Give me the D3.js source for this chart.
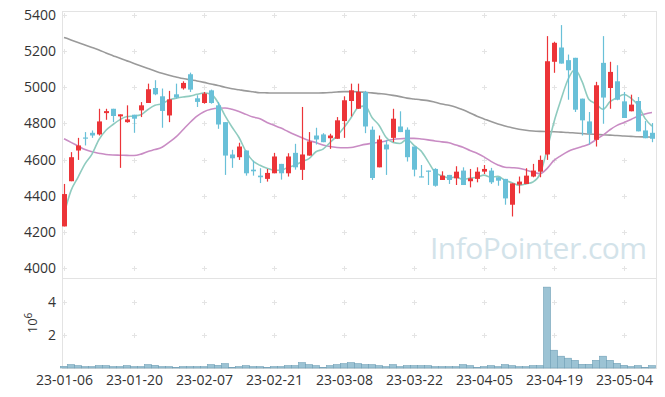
<!DOCTYPE html>
<html>
<head>
<meta charset="utf-8">
<script src="https://cdn.jsdelivr.net/npm/d3@7"></script>
<style>
body { margin: 0; background: #fff; }
text { font-family: "Open Sans", "Noto Sans", sans-serif; }
</style>
</head>
<body>
<div id="chart"></div>
<script>
// candles (open, high, low, close), one per trading day
var opens = [4230,4480,4650,4722,4748,4739,4857,4881,4839,4807,4848,4872,4913,4996,4950,4844,4961,4994,5072,4939,
    4913,4983,4900,4807,4628,4613,4650,4544,4511,4493,4524,4576,4524,4637,4543,4622,4733,4739,4718,4715,
    4813,4924,4881,4974,4765,4557,4683,4720,4783,4765,4672,4507,4539,4548,4487,4515,4496,4539,4480,4493,
    4533,4539,4502,4493,4350,4461,4465,4506,4533,4628,5141,5220,5150,5163,4937,4811,4709,5135,4996,5033,
    4922,4867,4924,4761,4748];
var highs = [4465,4641,4720,4752,4761,4881,4881,4881,4850,4900,4848,4918,5020,5039,4993,4980,5020,5033,5081,4956,
    4974,4987,4918,4807,4654,4693,4650,4594,4552,4548,4637,4576,4635,4687,4891,4752,4776,4746,4743,4835,
    4950,5020,5020,4980,4783,4733,4709,4881,4867,4778,4672,4570,4539,4552,4535,4515,4563,4557,4548,4557,
    4570,4554,4502,4493,4468,4506,4552,4576,4622,5283,5252,5344,5181,5163,4937,4863,5030,5283,5141,5122,
    4974,4959,4946,4813,4802];
var lows = [4230,4480,4598,4678,4720,4733,4820,4807,4554,4804,4748,4835,4913,4956,4776,4807,4937,4987,4974,4891,
    4909,4909,4770,4515,4554,4598,4511,4511,4470,4478,4524,4489,4506,4544,4487,4622,4683,4696,4659,4715,
    4720,4839,4881,4746,4487,4557,4515,4696,4752,4589,4507,4502,4459,4450,4487,4465,4459,4459,4446,4474,
    4520,4465,4455,4350,4285,4413,4465,4502,4502,4598,5080,5131,4931,4863,4733,4683,4672,4798,4881,4928,
    4830,4867,4756,4718,4696];
var closes = [4409,4613,4678,4718,4733,4811,4868,4841,4850,4822,4826,4900,4989,4961,4869,4933,4943,5024,4987,4919,
    4965,4913,4794,4622,4607,4672,4524,4535,4502,4526,4617,4524,4617,4557,4628,4700,4711,4696,4733,4817,
    4928,4983,4974,4783,4498,4711,4656,4826,4752,4613,4544,4504,4535,4455,4511,4487,4533,4459,4496,4533,
    4548,4474,4483,4385,4468,4478,4511,4539,4598,5144,5246,5131,5094,4876,4817,4743,5011,4943,5085,4931,
    4830,4904,4756,4718,4715];

// moving averages
var ma5 = [4298,4428,4502,4576,4630,4711,4762,4794,4821,4838,4841,4848,4877,4900,4909,4930,4939,4946,4951,4961,
    4968,4962,4916,4843,4780,4722,4644,4592,4568,4552,4541,4541,4557,4568,4589,4605,4643,4658,4694,4731,
    4777,4831,4887,4897,4833,4790,4724,4695,4689,4712,4678,4648,4590,4530,4510,4498,4504,4489,4497,4502,
    4514,4502,4507,4485,4472,4458,4465,4476,4519,4654,4808,4932,5043,5098,5033,4932,4908,4878,4920,4943,
    4960,4939,4901,4828,4785];
var ma20 = [4715,4695,4675,4655,4643,4635,4628,4625,4624,4623,4622,4630,4645,4655,4668,4695,4725,4765,4805,4840,
    4865,4878,4884,4885,4878,4866,4850,4835,4826,4805,4790,4774,4755,4737,4720,4705,4694,4680,4672,4667,
    4665,4667,4675,4684,4690,4696,4703,4711,4715,4717,4717,4714,4709,4703,4698,4693,4680,4668,4650,4635,
    4615,4590,4570,4557,4555,4552,4542,4530,4522,4550,4595,4622,4645,4660,4672,4685,4710,4735,4765,4789,
    4805,4822,4840,4852,4860];
var ma60 = [5276,5262,5248,5234,5220,5206,5190,5175,5160,5146,5132,5118,5104,5090,5077,5066,5057,5048,5041,5035,
    5027,5018,5010,5000,4992,4986,4980,4975,4970,4969,4968,4968,4968,4968,4968,4968,4968,4969,4971,4974,
    4976,4976,4975,4972,4969,4965,4961,4955,4948,4940,4935,4930,4926,4917,4907,4900,4890,4875,4858,4840,
    4825,4810,4797,4786,4776,4768,4762,4758,4756,4755,4754,4752,4750,4747,4744,4741,4739,4737,4735,4733,
    4730,4728,4726,4725,4724];

// volume, millions of shares
var volumes = [0.10,0.20,0.14,0.08,0.08,0.14,0.14,0.08,0.08,0.14,0.08,0.08,0.20,0.16,0.08,0.08,0.02,0.08,0.08,0.08,
    0.08,0.20,0.16,0.26,0.04,0.08,0.14,0.08,0.08,0.02,0.08,0.08,0.14,0.14,0.32,0.20,0.14,0.02,0.14,0.20,
    0.26,0.32,0.26,0.20,0.20,0.14,0.08,0.20,0.08,0.14,0.14,0.14,0.14,0.08,0.08,0.08,0.08,0.20,0.14,0.02,
    0.08,0.14,0.08,0.20,0.14,0.08,0.08,0.14,0.14,4.87,1.07,0.71,0.59,0.46,0.22,0.22,0.46,0.71,0.46,0.28,
    0.16,0.08,0.14,0.02,0.14];

var tickIdx = [0,10,20,30,40,50,60,70,80];
var tickLabels = ["23-01-06","23-01-20","23-02-07","23-02-21","23-03-08","23-03-22","23-04-05","23-04-19","23-05-04"];
var priceTicks = [4000,4200,4400,4600,4800,5000,5200,5400];
var volTicks = [2,4];

var w = 665;
var h = 397;
var plotLeft = 62, plotRight = 656, plotTop = 11, plotSplit = 278.5, plotBottom = 368;

var svg = d3.select("#chart").append("svg")
    .attr("width", w)
    .attr("height", h);

var x = d3.scaleLinear()
    .domain([0, 84])
    .range([64, 652]);
var y = d3.scaleLinear()
    .domain([3939, 5422])
    .range([279, plotTop]);
var yv = d3.scaleLinear()
    .domain([0, 5.39])
    .range([plotBottom, plotSplit]);

// frame
svg.append("rect")
    .attr("x", plotLeft + 0.5).attr("y", plotTop + 0.5)
    .attr("width", plotRight - plotLeft).attr("height", plotBottom - plotTop)
    .style("fill", "none").style("stroke", "#e3e3e3");
svg.append("line")
    .attr("x1", plotLeft).attr("x2", plotRight)
    .attr("y1", plotSplit).attr("y2", plotSplit)
    .style("stroke", "#e3e3e3");

// grid crosses
function crosses(ys){
    var pts = [];
    tickIdx.forEach(function(i){
        ys.forEach(function(yy){ pts.push([Math.round(x(i)) + 0.5, yy]); });
    });
    svg.append("g").selectAll("path")
        .data(pts)
        .enter()
        .append("path")
        .attr("d", function(d){
            return "M" + (d[0] - 2.5) + "," + d[1] + "h5M" + d[0] + "," + (d[1] - 2.5) + "v5";
        })
        .style("stroke", "#e4e4e4")
        .style("stroke-width", 1);
}
crosses(priceTicks.map(function(v){ return Math.round(y(v)) + 0.5; }));
crosses(volTicks.map(function(v){ return Math.round(yv(v)) + 0.5; }));

// watermark
svg.append("text")
    .attr("x", 647)
    .attr("y", 259)
    .attr("textLength", 217)
    .style("text-anchor", "end")
    .style("font-size", "30px")
    .style("fill", "#d3e3ea")
    .text("InfoPointer.com");

// axes
var yAxis = d3.axisLeft(y).tickValues(priceTicks).tickSize(0).tickPadding(6)
    .tickFormat(d3.format("d"));
svg.append("g")
    .attr("transform", "translate(" + plotLeft + ",0)")
    .call(yAxis)
    .call(function(g){ g.select(".domain").remove(); });
var vAxis = d3.axisLeft(yv).tickValues(volTicks).tickSize(0).tickPadding(6)
    .tickFormat(d3.format("d"));
svg.append("g")
    .attr("transform", "translate(" + plotLeft + ",0)")
    .call(vAxis)
    .call(function(g){ g.select(".domain").remove(); });
var xAxis = d3.axisBottom(x).tickValues(tickIdx).tickSize(0).tickPadding(7)
    .tickFormat(function(d, i){ return tickLabels[i]; });
svg.append("g")
    .attr("transform", "translate(0," + plotBottom + ")")
    .call(xAxis)
    .call(function(g){ g.select(".domain").remove(); });
svg.selectAll(".tick text")
    .style("font-family", "'Open Sans', 'Noto Sans', sans-serif")
    .style("font-size", "14px")
    .style("fill", "#333");

// 10^6 label
var unit = svg.append("text")
    .attr("transform", "translate(37,323) rotate(-90)")
    .style("text-anchor", "middle")
    .style("font-size", "13px")
    .style("fill", "#333");
unit.append("tspan").text("10");
unit.append("tspan").attr("dy", -5).style("font-size", "10px").text("6");

// moving averages
var line = d3.line()
    .x(function(d, i){ return x(i); })
    .y(function(d){ return y(d); })
    .curve(d3.curveMonotoneX);
[[ma60, "#9a9a9a"], [ma20, "#c98cc4"], [ma5, "#8fcbbf"]].forEach(function(s){
    svg.append("path")
        .datum(s[0])
        .attr("d", line)
        .style("fill", "none")
        .style("stroke", s[1])
        .style("stroke-width", 1.6);
});

// candles
var candles = svg.append("g").selectAll("g")
    .data(closes.map(function(c, i){
        return { i: i, o: opens[i], h: highs[i], l: lows[i], c: c };
    }))
    .enter()
    .append("g")
    .style("fill", function(d){ return d.c >= d.o ? "#ec3438" : "#69c0d8"; })
    .style("stroke", function(d){ return d.c >= d.o ? "#ec3438" : "#69c0d8"; });
candles.append("line")
    .attr("x1", function(d){ return Math.round(x(d.i)) + 0.5; })
    .attr("x2", function(d){ return Math.round(x(d.i)) + 0.5; })
    .attr("y1", function(d){ return y(d.h); })
    .attr("y2", function(d){ return y(d.l); })
    .style("stroke-width", 1.2);
candles.append("rect")
    .attr("x", function(d){ return Math.round(x(d.i)) - 2; })
    .attr("width", 5)
    .attr("y", function(d){ return y(Math.max(d.o, d.c)); })
    .attr("height", function(d){ return Math.max(1.2, Math.abs(y(d.o) - y(d.c))); })
    .style("stroke", "none");

// volume bars
svg.append("g").selectAll("rect")
    .data(volumes)
    .enter()
    .append("rect")
    .attr("x", function(d, i){ return x(i) - 3.5; })
    .attr("width", 7)
    .attr("y", function(d){ return yv(d); })
    .attr("height", function(d){ return plotBottom - yv(d); })
    .style("fill", "#9cc3d4")
    .style("stroke", "#6f9fb6")
    .style("stroke-width", 0.6);
</script>
</body>
</html>
